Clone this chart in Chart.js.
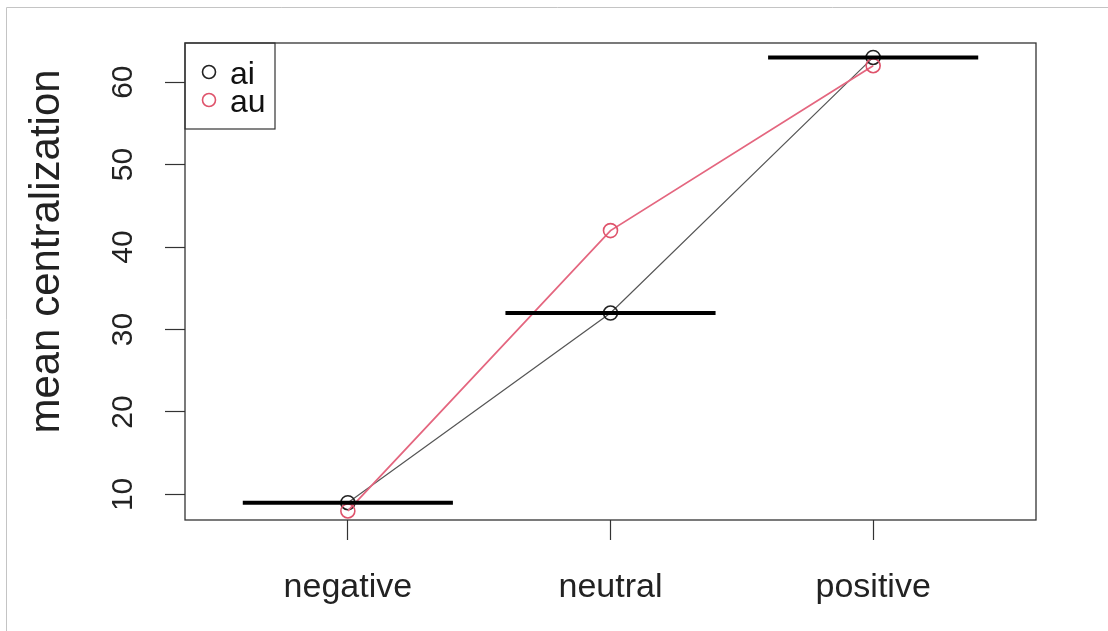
<!DOCTYPE html>
<html>
<head>
<meta charset="utf-8">
<script src="https://cdn.jsdelivr.net/npm/chart.js@4"></script>
<style>
  html, body { margin: 0; padding: 0; background: #fff; }
  #wrap { width: 1108px; height: 631px; position: relative; }
</style>
</head>
<body>
<div id="wrap"><canvas id="ChartCentral"></canvas></div>
<script>
const categories = ['negative', 'neutral', 'positive'];
const seriesNames = ['ai', 'au'];
const aiValues = [9, 32, 63];
const auValues = [8, 42, 62];
const meanBars = [9, 32, 63];
const yTicks = [10, 20, 30, 40, 50, 60];
const yLabel = 'mean centralization';

const FONT = '"Liberation Sans", Arial, sans-serif';
const seriesColors = ['#222222', '#DF536B'];
const lineColors = ['#555555', '#E4667F'];
const barHalf = 0.4;

const toPoints = vals => vals.map((v, i) => ({ x: i + 1, y: v }));

const datasets = [];
// horizontal mean bars, one per category
meanBars.forEach((v, i) => {
    datasets.push({
        data: [{ x: i + 1 - barHalf, y: v }, { x: i + 1 + barHalf, y: v }],
        borderColor: '#000',
        borderWidth: 4,
        pointRadius: 0,
        order: 0
    });
});
[aiValues, auValues].forEach((vals, k) => {
    datasets.push({
        label: seriesNames[k],
        data: toPoints(vals),
        borderColor: lineColors[k],
        borderWidth: k === 0 ? 1.2 : 1.8,
        pointRadius: 7,
        pointBorderWidth: 1.6,
        pointBorderColor: seriesColors[k],
        pointBackgroundColor: 'rgba(255,255,255,0)',
        order: 2 - k
    });
});

const overlay = {
    id: 'overlay',
    afterDraw(chart) {
        const { ctx, chartArea: a, scales: { y } } = chart;
        ctx.save();

        // outer image frame
        ctx.strokeStyle = '#c4c4c4';
        ctx.lineWidth = 1;
        ctx.beginPath();
        ctx.moveTo(6.5, 631); ctx.lineTo(6.5, 7.5); ctx.lineTo(1108, 7.5);
        ctx.stroke();

        // plot box
        ctx.strokeStyle = '#333';
        ctx.lineWidth = 1.3;
        ctx.strokeRect(a.left, a.top, a.right - a.left, a.bottom - a.top);

        // y tick labels, rotated like R
        ctx.fillStyle = '#222';
        ctx.font = '30px ' + FONT;
        ctx.textAlign = 'center';
        ctx.textBaseline = 'alphabetic';
        yTicks.forEach(v => {
            ctx.save();
            ctx.translate(a.left - 53, y.getPixelForValue(v));
            ctx.rotate(-Math.PI / 2);
            ctx.fillText(String(v), 0, 0);
            ctx.restore();
        });

        // y axis title
        ctx.font = '42px ' + FONT;
        ctx.save();
        ctx.translate(a.left - 126, (a.top + a.bottom) / 2 - 30);
        ctx.rotate(-Math.PI / 2);
        ctx.fillText(yLabel, 0, 0);
        ctx.restore();

        // legend box in the top-left corner
        ctx.strokeStyle = '#333';
        ctx.lineWidth = 1.2;
        ctx.strokeRect(a.left, a.top, 90, 86);
        ctx.font = '32px ' + FONT;
        ctx.textAlign = 'left';
        seriesNames.forEach((name, k) => {
            const cy = a.top + 29 + k * 28;
            ctx.beginPath();
            ctx.arc(a.left + 24, cy, 6.5, 0, Math.PI * 2);
            ctx.strokeStyle = seriesColors[k];
            ctx.lineWidth = 1.6;
            ctx.stroke();
            ctx.fillStyle = '#111';
            ctx.fillText(name, a.left + 45, cy + 12);
        });
        ctx.restore();
    }
};

const config = {
    type: 'line',
    data: { datasets: datasets },
    options: {
        responsive: true,
        maintainAspectRatio: false,
        animation: false,
        layout: { padding: { top: 43, right: 72, left: 0, bottom: 0 } },
        plugins: {
            legend: { display: false },
            tooltip: { enabled: false }
        },
        scales: {
            x: {
                type: 'linear',
                min: 0.38,
                max: 3.62,
                afterBuildTicks: scale => {
                    scale.ticks = categories.map((c, i) => ({ value: i + 1 }));
                },
                afterFit: scale => { scale.height = 111; },
                ticks: {
                    autoSkip: false,
                    maxRotation: 0,
                    padding: 27,
                    color: '#222',
                    font: { family: FONT, size: 34 },
                    callback: v => categories[v - 1]
                },
                grid: {
                    drawOnChartArea: false,
                    tickLength: 20,
                    tickColor: '#333',
                    tickWidth: 1.2
                },
                border: { display: false }
            },
            y: {
                type: 'linear',
                min: 6.9,
                max: 64.75,
                afterBuildTicks: scale => {
                    scale.ticks = yTicks.map(v => ({ value: v }));
                },
                afterFit: scale => { scale.width = 185; },
                ticks: { display: false },
                grid: {
                    drawOnChartArea: false,
                    tickLength: 20,
                    tickColor: '#333',
                    tickWidth: 1.2
                },
                border: { display: false }
            }
        }
    },
    plugins: [overlay]
};

const myChart = new Chart(document.getElementById('ChartCentral'), config);
</script>
</body>
</html>
